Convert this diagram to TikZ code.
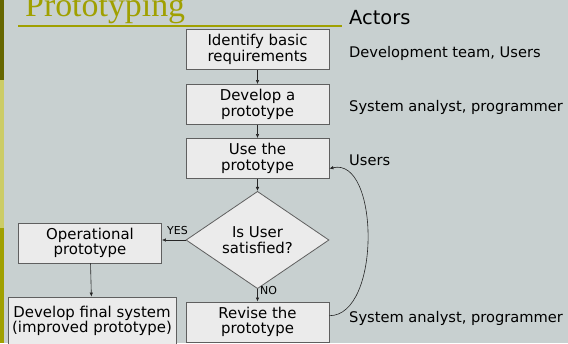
\documentclass[tikz,border=0pt]{standalone}
\usepackage{fontspec}
\setmainfont{DejaVu Sans}
\newfontfamily\titlefont{Liberation Serif}
\usetikzlibrary{shapes.geometric,arrows.meta}

\definecolor{slidebg}{RGB}{200,208,208}
\definecolor{boxfill}{RGB}{235,235,235}
\definecolor{boxline}{RGB}{95,95,95}
\definecolor{olive}{RGB}{160,160,0}
\definecolor{olivedark}{RGB}{102,102,0}
\definecolor{olivelight}{RGB}{204,204,102}

\tikzset{
  stepbox/.style={draw=boxline, fill=boxfill, line width=0.8bp, inner sep=0pt,
    minimum width=143bp, minimum height=40bp, align=center,
    font=\fontsize{15}{15.5}\selectfont},
  decision/.style={diamond, draw=boxline, fill=boxfill, line width=0.8bp, inner sep=0pt,
    minimum width=143bp, minimum height=84bp, align=center,
    font=\fontsize{15}{15.5}\selectfont},
  actor/.style={anchor=west, inner sep=0pt, font=\fontsize{14.7}{16}\selectfont},
  flow/.style={draw=black!85, line width=0.6bp, -{Latex[length=4bp,width=3.5bp]}},
  answer/.style={inner sep=0pt, font=\fontsize{11}{12}\selectfont}
}

\begin{document}
\begin{tikzpicture}[x=1bp, y=-1bp]
    \useasboundingbox (0,0) rectangle (568,343);
    % Slide background
    \fill[slidebg] (0,0) rectangle (568,343);
    \fill[olivedark] (0,0) rectangle (4,80);
    \fill[olivelight] (0,80) rectangle (4,228);
    \fill[olive] (0,228) rectangle (4,343);

    % Title
    \node[anchor=base west, inner sep=0pt, text=olive, font=\titlefont\fontsize{34}{36}\selectfont]
      (title) at (25,16.5) {Prototyping};
    \draw[olive, line width=2bp] (18,25.5) -- (342,25.5);

    % Steps
    \node[stepbox] (identify) at (257.5,49.5) {Identify basic\\requirements};
    \node[stepbox] (develop) at (257.5,104.5) {Develop a\\prototype};
    \node[stepbox] (use) at (257.5,158.5) {Use the\\prototype};
    \node[decision] (satisfied) at (257.5,240) {Is User\\satisfied?};
    \node[stepbox] (operational) at (90,243) {Operational\\prototype};
    \node[stepbox, minimum width=168bp, minimum height=48bp] (final) at (92,321)
      {Develop final system\\(improved prototype)};
    \node[stepbox] (revise) at (257.5,322) {Revise the\\prototype};

    % Connectors
    \draw[flow] (identify) -- (develop);
    \draw[flow] (develop) -- (use);
    \draw[flow] (use) -- (satisfied);
    \draw[flow] (satisfied.west) -- (satisfied.west -| operational.east);
    \node[answer] (yes) at (177.5,230.5) {YES};
    \draw[flow] (satisfied) -- (revise);
    \node[answer] (no) at (268.5,291) {NO};
    \draw[flow] (operational) -- (final);
    \draw[flow] (revise.5) .. controls +(52,0) and +(50,-12) .. (use.-8);

    % Actors
    \node[actor, font=\fontsize{19.5}{20}\selectfont] (actors) at (349,17.5) {Actors};
    \node[actor] (a1) at (349,53) {Development team, Users};
    \node[actor] (a2) at (349,107.5) {System analyst, programmer};
    \node[actor] (a3) at (349,160) {Users};
    \node[actor] (a4) at (349,318) {System analyst, programmer};
\end{tikzpicture}
\end{document}
